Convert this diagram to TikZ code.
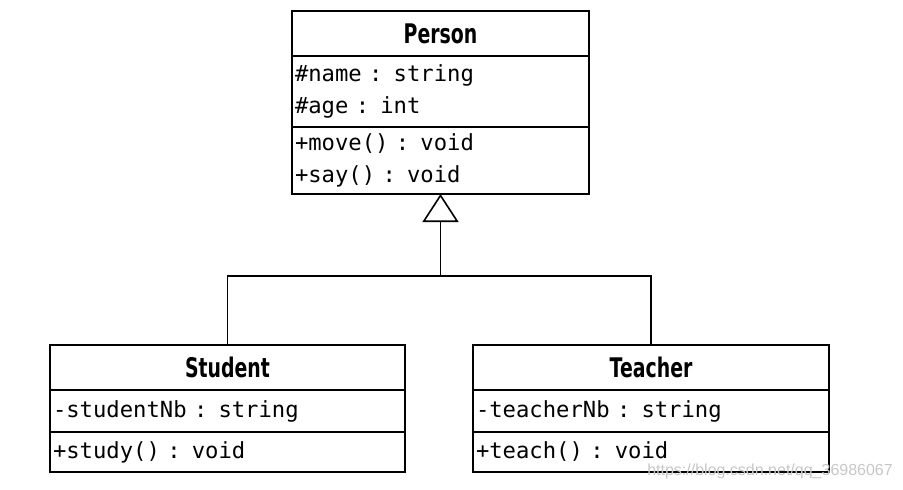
\documentclass[tikz,border=0pt]{standalone}
\usepackage{fontspec}
\usepackage{graphicx}
\usetikzlibrary{arrows.meta}
\newfontfamily\umlfont{DejaVu Sans Mono}
\newfontfamily\headfont{DejaVu Sans}
\newfontfamily\markfont{Liberation Sans}
\newcommand{\classname}[1]{\scalebox{0.7}[1]{\headfont\bfseries #1}}

\begin{document}
\begin{tikzpicture}[x=1pt,y=-1pt,
  box/.style={draw,line width=1.6pt,outer sep=0pt,anchor=north west},
  head/.style={box,inner sep=0pt,font=\fontsize{27}{30}\selectfont},
  part/.style={box,inner xsep=3pt,inner ysep=0pt,align=left,font=\umlfont\fontsize{22.2}{32}\selectfont},
  conn/.style={line width=1.3pt},
  extends/.style={conn,-{Triangle[open,length=28pt,width=36pt,line width=1.6pt]}}]
\useasboundingbox (0,0) rectangle (903,490);
\node[head,minimum width=297,minimum height=45] (person) at (292,11) {\classname{Person}};
\node[part,text width=291,minimum height=71] (personattr) at (person.south west) {\#name : string\\\#age : int};
\node[part,text width=291,minimum height=67] (personmeth) at (personattr.south west) {+move() : void\\+say() : void};
\node[head,minimum width=355,minimum height=45] (student) at (50,345) {\classname{Student}};
\node[part,text width=349,minimum height=42] (studentattr) at (student.south west) {-studentNb : string};
\node[part,text width=349,minimum height=40] (studentmeth) at (studentattr.south west) {+study() : void};
\node[head,minimum width=356,minimum height=45] (teacher) at (473,345) {\classname{Teacher}};
\node[part,text width=350,minimum height=42] (teacherattr) at (teacher.south west) {-teacherNb : string};
\node[part,text width=350,minimum height=40] (teachermeth) at (teacherattr.south west) {+teach() : void};
\coordinate (fork) at (personmeth.south |- 0,276);
\draw[conn] (student.north) |- (fork);
\draw[conn] (teacher.north) |- (fork);
\draw[extends] (fork) -- (personmeth.south);
\node[anchor=east,inner sep=0pt,text=black!22,font=\markfont\fontsize{16}{16}\selectfont] (mark) at (893,471) {https://blog.csdn.net/qq\_36986067};
\end{tikzpicture}
\end{document}
